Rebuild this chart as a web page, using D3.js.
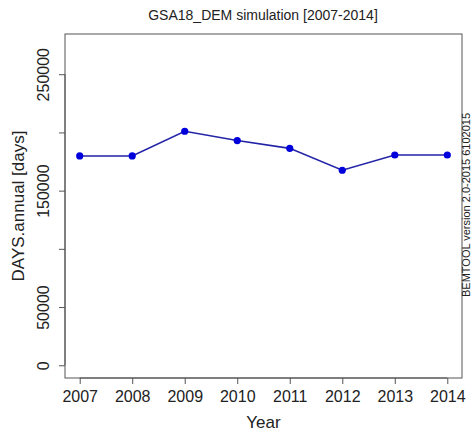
<!DOCTYPE html>
<html>
<head>
<meta charset="utf-8">
<script src="https://d3js.org/d3.v7.min.js"></script>
<style>
  body { margin: 0; background: #fff; }
  text { font-family: "Liberation Sans", Arial, sans-serif; }
</style>
</head>
<body>
<script>
// Chart data
var years = [2007, 2008, 2009, 2010, 2011, 2012, 2013, 2014];
var days = [179800, 179800, 201000, 193000, 186300, 167500, 180600, 180600];
var yTicks = [0, 50000, 100000, 150000, 200000, 250000];
var yTickLabels = ["0", "50000", "", "150000", "", "250000"];

var W = 473, H = 431;
var box = {left: 65, right: 462, top: 34, bottom: 378};

var svg = d3.select("body").append("svg")
    .attr("width", W)
    .attr("height", H);

// R style: 4% padding around data range
var yMax = 273600;
var x = d3.scaleLinear()
    .domain([2007 - 0.28, 2014 + 0.28])
    .range([box.left, box.right]);
var y = d3.scaleLinear()
    .domain([-0.04 * yMax, 1.04 * yMax])
    .range([box.bottom, box.top]);

// Plot frame
svg.append("rect")
    .attr("x", box.left)
    .attr("y", box.top)
    .attr("width", box.right - box.left)
    .attr("height", box.bottom - box.top)
    .attr("fill", "none")
    .attr("stroke", "#555")
    .attr("stroke-width", 1);

// X axis
var xAxis = svg.append("g")
    .attr("transform", "translate(0," + box.bottom + ")")
    .call(d3.axisBottom(x).tickValues(years).tickFormat(d3.format("d"))
      .tickSize(6).tickPadding(7));
xAxis.select(".domain").attr("stroke", "#555").attr("d", "M" + x(2007) + ",0H" + x(2014));
xAxis.selectAll(".tick line").attr("stroke", "#555");
xAxis.selectAll(".tick text")
    .attr("font-size", 16)
    .attr("fill", "#222")
    .attr("font-family", "Liberation Sans, Arial, sans-serif");

// Y axis
var yAxis = svg.append("g")
    .attr("transform", "translate(" + box.left + ",0)")
    .call(d3.axisLeft(y).tickValues(yTicks)
      .tickFormat(function(d, i) { return yTickLabels[i]; })
      .tickSize(6).tickPadding(0));
yAxis.select(".domain").attr("stroke", "#555").attr("d", "M0," + y(0) + "V" + y(250000));
yAxis.selectAll(".tick line").attr("stroke", "#555");
yAxis.selectAll(".tick text")
    .attr("font-size", 16)
    .attr("fill", "#222")
    .attr("font-family", "Liberation Sans, Arial, sans-serif")
    .attr("text-anchor", "middle")
    .attr("x", 0)
    .attr("dy", 0)
    .attr("transform", "translate(-16,0) rotate(-90)");

// Line
var line = d3.line()
    .x(function(d, i) { return x(years[i]); })
    .y(function(d) { return y(d); });

svg.append("path")
    .datum(days)
    .attr("d", line)
    .attr("fill", "none")
    .attr("stroke", "#2323a8")
    .attr("stroke-width", 1.6);

svg.selectAll(".pt")
    .data(days)
  .enter().append("circle")
    .attr("class", "pt")
    .attr("cx", function(d, i) { return x(years[i]); })
    .attr("cy", function(d) { return y(d); })
    .attr("r", 3.6)
    .attr("fill", "#0000dd");

// Titles
svg.append("text")
    .attr("x", 263)
    .attr("y", 20)
    .attr("text-anchor", "middle")
    .attr("font-size", 14)
    .attr("fill", "#222")
    .text("GSA18_DEM simulation [2007-2014]");

svg.append("text")
    .attr("x", (box.left + box.right) / 2)
    .attr("y", 428)
    .attr("text-anchor", "middle")
    .attr("font-size", 17)
    .attr("fill", "#222")
    .text("Year");

svg.append("text")
    .attr("transform", "translate(24," + ((box.top + box.bottom) / 2) + ") rotate(-90)")
    .attr("text-anchor", "middle")
    .attr("font-size", 17)
    .attr("fill", "#222")
    .text("DAYS.annual [days]");

svg.append("text")
    .attr("transform", "translate(470,205) rotate(-90)")
    .attr("text-anchor", "middle")
    .attr("font-size", 11)
    .attr("fill", "#222")
    .text("BEMTOOL version 2.0-2015  6102015");
</script>
</body>
</html>
